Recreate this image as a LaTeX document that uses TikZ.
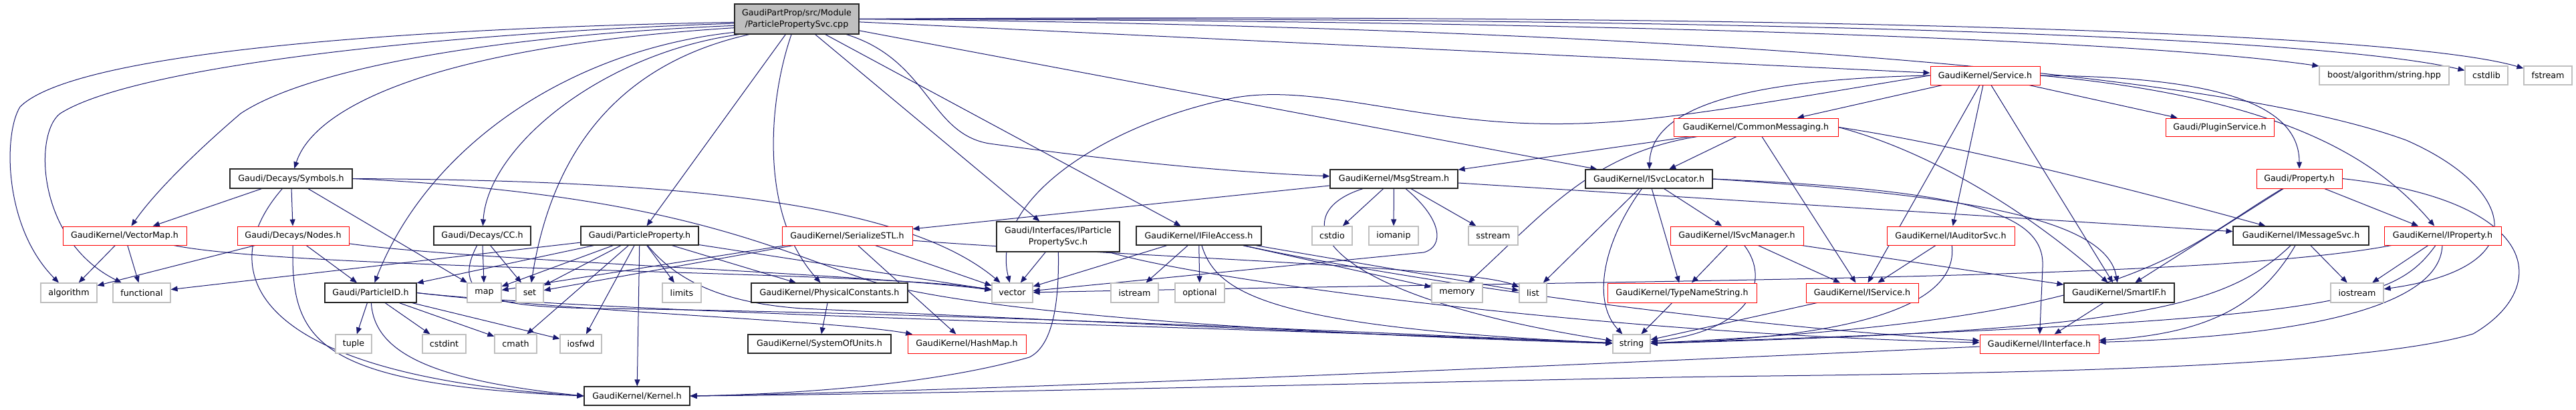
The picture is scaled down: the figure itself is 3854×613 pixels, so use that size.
\documentclass[tikz,border=0pt]{standalone}
\usepackage{fontspec}
\setmainfont{DejaVu Sans}
\usetikzlibrary{arrows.meta}
\definecolor{edgeblue}{HTML}{191970}
\definecolor{nodered}{HTML}{FF0000}
\definecolor{extgray}{HTML}{BFBFBF}
\definecolor{maingray}{HTML}{BFBFBF}
\pgfdeclarelayer{bglayer}
\pgfdeclarelayer{edgelayer}
\pgfsetlayers{bglayer,edgelayer,main}
\newcommand{\gbox}[7]{%
  \pgfmathsetmacro{\gbw}{#4-#3}\pgfmathsetmacro{\gbh}{#6-#5}%
  \pgfmathsetmacro{\gbx}{(#3+#4)/2}\pgfmathsetmacro{\gby}{-(#5+#6)/2}%
  \node[#1, minimum width=\gbw pt, minimum height=\gbh pt] (#2) at (\gbx,\gby) {#7};}
\tikzset{
  gbx/.style={draw, rectangle, fill=white, inner sep=0pt, align=center,
    font=\fontsize{12.7}{17}\selectfont, line width=1pt},
  mainn/.style={gbx, fill=maingray, draw=black!85, line width=1.2pt},
  blk/.style={gbx, draw=black!85, line width=1.2pt},
  trunc/.style={gbx, draw=nodered, line width=1pt},
  ext/.style={gbx, draw=extgray, line width=1.2pt},
  lnk/.style={draw=edgeblue, line width=1pt, -{Triangle[length=10pt,width=8pt]}},
}
\begin{document}
\begin{tikzpicture}[x=1pt,y=1pt]
\begin{pgfonlayer}{bglayer}
\fill[white] (0,0) rectangle (3854,-613);
\end{pgfonlayer}
\useasboundingbox (0,0) rectangle (3854,-613);
% nodes
\gbox{mainn}{main}{1099}{1285}{6}{51}{GaudiPartProp/src/Module\\/ParticlePropertySvc.cpp}
\gbox{blk}{symbols}{344}{527}{253}{282}{Gaudi/Decays/Symbols.h}
\gbox{blk}{msgstream}{1990}{2181}{254}{282}{GaudiKernel/MsgStream.h}
\gbox{blk}{svcloc}{2372}{2562}{254}{282}{GaudiKernel/ISvcLocator.h}
\gbox{trunc}{commsg}{2504}{2750}{177}{204}{GaudiKernel/CommonMessaging.h}
\gbox{trunc}{service}{2888}{3052}{99}{127}{GaudiKernel/Service.h}
\gbox{trunc}{plugin}{3240}{3402}{177}{204}{Gaudi/PluginService.h}
\gbox{ext}{boost}{3470}{3664}{99}{127}{boost/algorithm/string.hpp}
\gbox{ext}{cstdlib}{3688}{3752}{99}{127}{cstdlib}
\gbox{ext}{fstream}{3776}{3848}{99}{127}{fstream}
\gbox{trunc}{property}{3376}{3504}{253}{282}{Gaudi/Property.h}
\gbox{trunc}{vectormap}{94}{279}{339}{367}{GaudiKernel/VectorMap.h}
\gbox{trunc}{nodes}{355}{522}{339}{367}{Gaudi/Decays/Nodes.h}
\gbox{blk}{cc}{649}{794}{339}{367}{Gaudi/Decays/CC.h}
\gbox{blk}{pprop}{869}{1045}{339}{367}{Gaudi/ParticleProperty.h}
\gbox{trunc}{serial}{1170}{1365}{339}{367}{GaudiKernel/SerializeSTL.h}
\gbox{blk}{ipps}{1491}{1675}{332}{377}{Gaudi/Interfaces/IParticle\\PropertySvc.h}
\gbox{blk}{ifile}{1700}{1887}{339}{367}{GaudiKernel/IFileAccess.h}
\gbox{ext}{cstdio}{1963}{2023}{339}{367}{cstdio}
\gbox{ext}{iomanip}{2048}{2122}{339}{367}{iomanip}
\gbox{ext}{sstream}{2197}{2271}{339}{367}{sstream}
\gbox{trunc}{isvcmgr}{2499}{2698}{339}{367}{GaudiKernel/ISvcManager.h}
\gbox{trunc}{iauditor}{2823}{3014}{339}{367}{GaudiKernel/IAuditorSvc.h}
\gbox{blk}{imsgsvc}{3341}{3544}{339}{367}{GaudiKernel/IMessageSvc.h}
\gbox{trunc}{iprop}{3567}{3742}{339}{367}{GaudiKernel/IProperty.h}
\gbox{ext}{algorithm}{61}{145}{424}{453}{algorithm}
\gbox{ext}{functional}{169}{255}{424}{453}{functional}
\gbox{blk}{pid}{486}{623}{424}{453}{Gaudi/ParticleID.h}
\gbox{ext}{map}{699}{750}{424}{453}{map}
\gbox{ext}{set}{772}{813}{424}{453}{set}
\gbox{ext}{limits}{991}{1049}{424}{453}{limits}
\gbox{blk}{physc}{1124}{1358}{424}{453}{GaudiKernel/PhysicalConstants.h}
\gbox{ext}{vector}{1484}{1545}{424}{453}{vector}
\gbox{ext}{istream}{1662}{1733}{424}{453}{istream}
\gbox{ext}{optional}{1758}{1832}{424}{453}{optional}
\gbox{ext}{memory}{2142}{2218}{424}{453}{memory}
\gbox{ext}{list}{2273}{2314}{424}{453}{list}
\gbox{trunc}{typename}{2405}{2628}{424}{453}{GaudiKernel/TypeNameString.h}
\gbox{trunc}{iservice}{2702}{2870}{424}{453}{GaudiKernel/IService.h}
\gbox{blk}{smartif}{3088}{3253}{424}{453}{GaudiKernel/SmartIF.h}
\gbox{ext}{iostream}{3487}{3566}{424}{453}{iostream}
\gbox{ext}{tuple}{502}{556}{501}{529}{tuple}
\gbox{ext}{cstdint}{632}{697}{501}{529}{cstdint}
\gbox{ext}{cmath}{740}{803}{501}{529}{cmath}
\gbox{ext}{iosfwd}{838}{900}{501}{529}{iosfwd}
\gbox{blk}{sysunits}{1119}{1333}{501}{529}{GaudiKernel/SystemOfUnits.h}
\gbox{trunc}{hashmap}{1358}{1535}{501}{529}{GaudiKernel/HashMap.h}
\gbox{ext}{string}{2413}{2469}{501}{529}{string}
\gbox{trunc}{iinterface}{2962}{3140}{501}{529}{GaudiKernel/IInterface.h}
\gbox{blk}{kernel}{874}{1032}{579}{607}{GaudiKernel/Kernel.h}
\begin{pgfonlayer}{edgelayer}
% main
\draw[lnk] (main.183) .. controls (700,-40) and (120,-70) .. (30,-160) .. controls (5,-200) and (5,-340) .. (algorithm);
\draw[lnk] (main.184) .. controls (650,-50) and (200,-100) .. (90,-170) .. controls (50,-200) and (55,-360) .. (functional);
\draw[lnk] (main.186) .. controls (700,-55) and (450,-110) .. (360,-170) .. controls (290,-230) and (230,-290) .. (vectormap);
\draw[lnk] (main.188) .. controls (650,-70) and (470,-160) .. (symbols);
\draw[lnk] (main.192) .. controls (850,-75) and (640,-220) .. (pid);
\draw[lnk] (main.195) .. controls (900,-80) and (730,-220) .. (cc);
\draw[lnk] (main.198) .. controls (950,-90) and (830,-200) .. (set);
\draw[lnk] (main) -- (pprop);
\draw[lnk] (main) .. controls (1150,-150) and (1135,-320) .. (physc);
\draw[lnk] (main) -- (ipps);
\draw[lnk] (main) -- (ifile);
\draw[lnk] (main) .. controls (1390,-90) and (1390,-200) .. (1480,-215) .. controls (1700,-245) and (1850,-258) .. (msgstream);
\draw[lnk] (main) -- (svcloc);
\draw[lnk] (main) -- (service);
\draw[lnk] (main.east) .. controls (2400,-30) and (3200,-60) .. (boost);
\draw[lnk] (main.east) .. controls (2500,-25) and (3450,-50) .. (cstdlib);
\draw[lnk] (main.east) .. controls (2600,-20) and (3580,-45) .. (fstream);
\draw[lnk] (main.east) .. controls (2400,-40) and (3300,-100) .. (3600,-210) .. controls (3760,-280) and (3800,-400) .. (iostream);
% Symbols
\draw[lnk] (symbols) -- (vectormap);
\draw[lnk] (symbols) -- (nodes);
\draw[lnk] (symbols) .. controls (320,-400) and (360,-560) .. (kernel.west);
\draw[lnk] (symbols) -- (map);
\draw[lnk] (symbols.east) .. controls (1000,-270) and (1350,-300) .. (vector);
\draw[lnk] (symbols.east) .. controls (1000,-290) and (1150,-370) .. (1300,-420) .. controls (1500,-480) and (2100,-505) .. (string);
% VectorMap
\draw[lnk] (vectormap) -- (algorithm);
\draw[lnk] (vectormap) -- (functional);
\draw[lnk] (vectormap) .. controls (450,-405) and (1300,-405) .. (vector);
% Nodes
\draw[lnk] (nodes) -- (algorithm);
\draw[lnk] (nodes) -- (pid);
\draw[lnk] (nodes) .. controls (435,-510) and (470,-575) .. (kernel.west);
\draw[lnk] (nodes) .. controls (700,-390) and (1300,-410) .. (vector);
% CC
\draw[lnk] (cc) -- (map);
\draw[lnk] (cc) -- (set);
\draw[lnk] (cc) .. controls (670,-450) and (750,-460) .. (900,-462) .. controls (1500,-470) and (2200,-505) .. (string);
% ParticleProperty
\draw[lnk] (pprop) -- (functional);
\draw[lnk] (pprop) -- (pid);
\draw[lnk] (pprop) -- (map);
\draw[lnk] (pprop) -- (set);
\draw[lnk] (pprop) -- (cmath);
\draw[lnk] (pprop) -- (iosfwd);
\draw[lnk] (pprop) -- (limits);
\draw[lnk] (pprop) -- (kernel);
\draw[lnk] (pprop) -- (physc);
\draw[lnk] (pprop) -- (vector);
\draw[lnk] (pprop) .. controls (1020,-430) and (1100,-455) .. (1200,-462) .. controls (1600,-480) and (2200,-508) .. (string);
% SerializeSTL
\draw[lnk] (serial) -- (map);
\draw[lnk] (serial) -- (set);
\draw[lnk] (serial) -- (vector);
\draw[lnk] (serial) -- (hashmap);
\draw[lnk] (serial) .. controls (1700,-385) and (2200,-400) .. (list);
% ParticleID
\draw[lnk] (pid) -- (tuple);
\draw[lnk] (pid) -- (cstdint);
\draw[lnk] (pid) -- (cmath);
\draw[lnk] (pid) -- (iosfwd);
\draw[lnk] (pid) .. controls (560,-530) and (650,-570) .. (kernel.west);
\draw[lnk] (pid.east) .. controls (900,-470) and (2000,-495) .. (string);
\draw[lnk] (pid.east) .. controls (900,-470) and (1250,-480) .. (hashmap);
% PhysicalConstants
\draw[lnk] (physc) -- (sysunits);
% IParticlePropertySvc
\draw[lnk] (ipps) -- (vector);
\draw[lnk] (ipps) .. controls (1585,-470) and (1570,-520) .. (1540,-535) .. controls (1400,-575) and (1200,-590) .. (kernel.east);
\draw[lnk] (ipps) .. controls (1800,-420) and (2400,-500) .. (iinterface);
% IFileAccess
\draw[lnk] (ifile) -- (vector);
\draw[lnk] (ifile) -- (istream);
\draw[lnk] (ifile) -- (optional);
\draw[lnk] (ifile) -- (memory);
\draw[lnk] (ifile) -- (list);
\draw[lnk] (ifile) .. controls (1820,-440) and (1900,-490) .. (string);
\draw[lnk] (ifile) .. controls (2100,-420) and (2600,-490) .. (iinterface);
% MsgStream
\draw[lnk] (msgstream) -- (cstdio);
\draw[lnk] (msgstream) -- (iomanip);
\draw[lnk] (msgstream) -- (sstream);
\draw[lnk] (msgstream) -- (serial);
\draw[lnk] (msgstream) -- (imsgsvc);
\draw[lnk] (msgstream) .. controls (1920,-320) and (1960,-440) .. (string);
\draw[lnk] (msgstream) .. controls (2160,-330) and (2160,-370) .. (2130,-378) -- (vector);
% CommonMessaging
\draw[lnk] (commsg) -- (msgstream);
\draw[lnk] (commsg) -- (svcloc);
\draw[lnk] (commsg) -- (iservice);
\draw[lnk] (commsg) .. controls (2380,-230) and (2310,-320) .. (memory);
\draw[lnk] (commsg.east) .. controls (2900,-230) and (3050,-330) .. (smartif);
\draw[lnk] (commsg.east) .. controls (2950,-220) and (3250,-300) .. (imsgsvc);
% ISvcLocator
\draw[lnk] (svcloc) -- (list);
\draw[lnk] (svcloc) -- (typename);
\draw[lnk] (svcloc) -- (isvcmgr);
\draw[lnk] (svcloc) .. controls (2400,-360) and (2380,-450) .. (string);
\draw[lnk] (svcloc.east) .. controls (2900,-290) and (3150,-320) .. (smartif);
\draw[lnk] (svcloc.east) .. controls (2950,-285) and (3060,-320) .. (3056,-400) -- (iinterface);
% Service
\draw[lnk] (service) -- (commsg);
\draw[lnk] (service) -- (plugin);
\draw[lnk] (service) -- (iservice);
\draw[lnk] (service) -- (iauditor);
\draw[lnk] (service) -- (smartif);
\draw[lnk] (service.east) .. controls (3300,-115) and (3440,-150) .. (property);
\draw[lnk] (service.east) .. controls (3400,-145) and (3550,-230) .. (iprop);
\draw[lnk] (service.west) .. controls (2550,-120) and (2470,-180) .. (svcloc);
\draw[lnk] (service.west) .. controls (2600,-160) and (2450,-190) .. (2295,-185) .. controls (2100,-180) and (1950,-120) .. (1830,-150) .. controls (1650,-190) and (1480,-300) .. (vector);
% ISvcManager
\draw[lnk] (isvcmgr) -- (typename);
\draw[lnk] (isvcmgr) -- (iservice);
\draw[lnk] (isvcmgr) -- (smartif);
\draw[lnk] (isvcmgr) .. controls (2650,-420) and (2620,-495) .. (string);
\draw[lnk] (typename) -- (string);
\draw[lnk] (iauditor) -- (iservice);
\draw[lnk] (iauditor) .. controls (2930,-450) and (2800,-505) .. (string);
\draw[lnk] (iservice) -- (string);
\draw[lnk] (smartif) -- (iinterface);
% Property
\draw[lnk] (property) -- (iprop);
\draw[lnk] (property) -- (smartif);
\draw[lnk] (property) .. controls (3250,-380) and (3200,-480) .. (string);
\draw[lnk] (property.east) .. controls (3800,-300) and (3820,-430) .. (3700,-500) .. controls (3500,-560) and (2800,-560) .. (2500,-565) .. controls (2000,-575) and (1400,-590) .. (kernel.east);
% IMessageSvc
\draw[lnk] (imsgsvc) -- (iostream);
\draw[lnk] (imsgsvc) .. controls (3330,-460) and (3200,-495) .. (string);
\draw[lnk] (imsgsvc) .. controls (3380,-460) and (3300,-500) .. (iinterface);
% IProperty
\draw[lnk] (iprop) -- (iostream);
\draw[lnk] (iprop) .. controls (3580,-455) and (3500,-480) .. (string);
\draw[lnk] (iprop) .. controls (3650,-470) and (3400,-505) .. (iinterface);
\draw[lnk] (iprop) .. controls (3300,-420) and (2500,-418) .. (vector);
% IInterface
\draw[lnk] (iinterface) .. controls (2500,-540) and (1500,-585) .. (kernel.east);
\end{pgfonlayer}
\end{tikzpicture}
\end{document}
